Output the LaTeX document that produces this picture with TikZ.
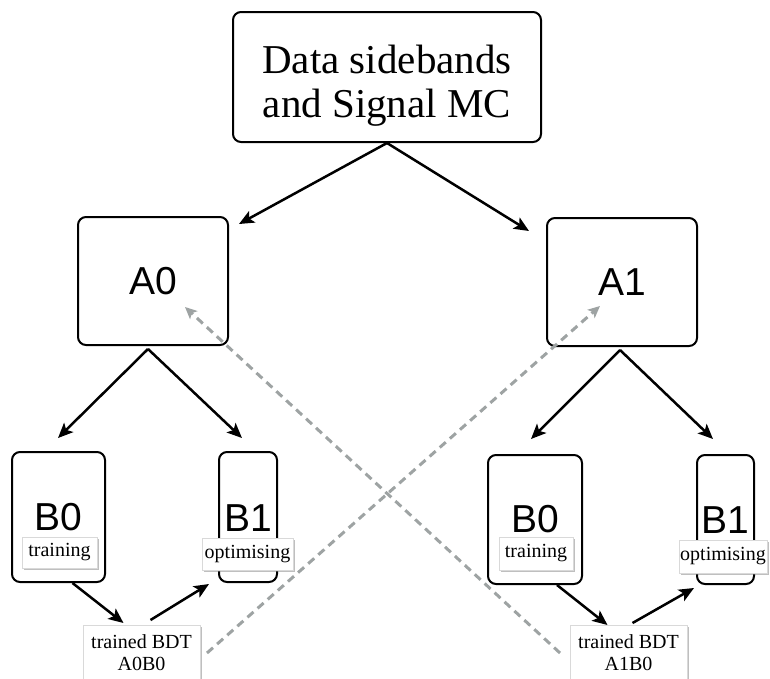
\documentclass[tikz,border=0pt]{standalone}
\usepackage{fontspec}
\setmainfont{Liberation Serif}
\newfontfamily\boxsans{Liberation Sans}
\usetikzlibrary{arrows.meta,calc,shadows}
\definecolor{dashgray}{RGB}{158,163,163}
\begin{document}
\begin{tikzpicture}[x=1pt,y=-1pt,
  rbox/.style={draw=black,line width=2pt,rounded corners=8pt,fill=white,inner sep=0pt},
  lbl/.style={draw=gray!30,line width=0.5pt,fill=white,inner sep=0pt,
     drop shadow={shadow xshift=1.5pt,shadow yshift=-1.5pt,opacity=0.5,fill=gray},
     font=\fontsize{20}{22}\selectfont},
  bdtbox/.style={lbl,anchor=north,align=center,inner xsep=4pt,inner ysep=9pt,
     minimum width=117pt},
  bigsans/.style={font=\boxsans\fontsize{39}{41}\selectfont},
  arr/.style={line width=2.5pt,-{Stealth[length=15pt,width=13pt,inset=3.5pt]}},
  dasharr/.style={dashgray,line width=3pt,dash pattern=on 8pt off 5.5pt,
     -{Stealth[length=12pt,width=11pt,inset=3pt]}}]
\useasboundingbox (0,0) rectangle (770,678);
% top box
\node[rbox,minimum width=308pt,minimum height=130pt] (top) at (387,77) {};
\node[align=center,font=\fontsize{41}{44}\selectfont,inner sep=0pt] (toptext) at (387,86)
  {Data sidebands\\and Signal MC};
% A boxes
\node[rbox,minimum width=150pt,minimum height=128pt,bigsans] (A0) at (153,281) {A0};
\node[rbox,minimum width=150pt,minimum height=128pt,bigsans] (A1) at (622,282) {A1};
% B boxes left
\node[rbox,minimum width=93pt,minimum height=130pt] (B0L) at (58.5,517) {};
\node[bigsans,inner sep=0pt] (B0Lt) at (58.5,517) {B0};
\node[rbox,minimum width=58pt,minimum height=130pt] (B1L) at (248,517) {};
\node[bigsans,inner sep=0pt] (B1Lt) at (248,518) {B1};
% B boxes right
\node[rbox,minimum width=94pt,minimum height=129pt] (B0R) at (535,519.5) {};
\node[bigsans,inner sep=0pt] (B0Rt) at (535,519) {B0};
\node[rbox,minimum width=57pt,minimum height=129pt] (B1R) at (725.5,519.5) {};
\node[bigsans,inner sep=0pt] (B1Rt) at (725.5,520) {B1};
% labels
\node[lbl,minimum width=75pt,minimum height=31pt] (trL) at (59.5,552.5) {training};
\node[lbl,minimum width=91pt,minimum height=32pt] (opL) at (247.5,554) {optimising};
\node[lbl,minimum width=74pt,minimum height=33pt] (trR) at (536,553.5) {training};
\node[lbl,minimum width=88pt,minimum height=33pt] (opR) at (723,556.5) {optimising};
% trained BDT boxes
\node[bdtbox] (bdtL) at (141.5,625) {trained BDT\\A0B0};
\node[bdtbox] (bdtR) at (628.5,625) {trained BDT\\A1B0};
% arrows from top
\draw[arr] (top.south) -- ($(A0.north east)+(10,8)$);
\draw[arr] (top.south) -- ($(A1.north west)+(-17,14)$);
% arrows from A0
\draw[arr] ($(A0.south)+(-5,3)$) -- ($(B0L.north)+(-0.5,-13)$);
\draw[arr] ($(A0.south)+(-5,3)$) -- ($(B1L.north)+(-6,-13)$);
% arrows from A1
\draw[arr] ($(A1.south)+(-2,3)$) -- ($(B0R.north)+(-4,-15)$);
\draw[arr] ($(A1.south)+(-2,3)$) -- ($(B1R.north)+(-12.5,-15)$);
% to and from trained BDT boxes
\draw[arr] ($(B0L.south)+(14,0)$) -- ($(bdtL.north)+(-18,-2)$);
\draw[arr] ($(bdtL.north)+(9,-5)$) -- ($(B1L.south west)+(-9,1)$);
\draw[arr] ($(B0R.south)+(22,0)$) -- ($(bdtR.north)+(-21,0)$);
\draw[arr] ($(bdtR.north)+(4,-2)$) -- ($(B1R.south west)+(-2,3)$);
% dashed cross arrows
\coordinate (dL) at (207,653);
\coordinate (dR) at (560,653);
\draw[dasharr] (dL) -- ($(A1.center)+(-22,24)$);
\draw[dasharr] (dR) -- ($(A0.center)+(32,26)$);
\end{tikzpicture}
\end{document}
